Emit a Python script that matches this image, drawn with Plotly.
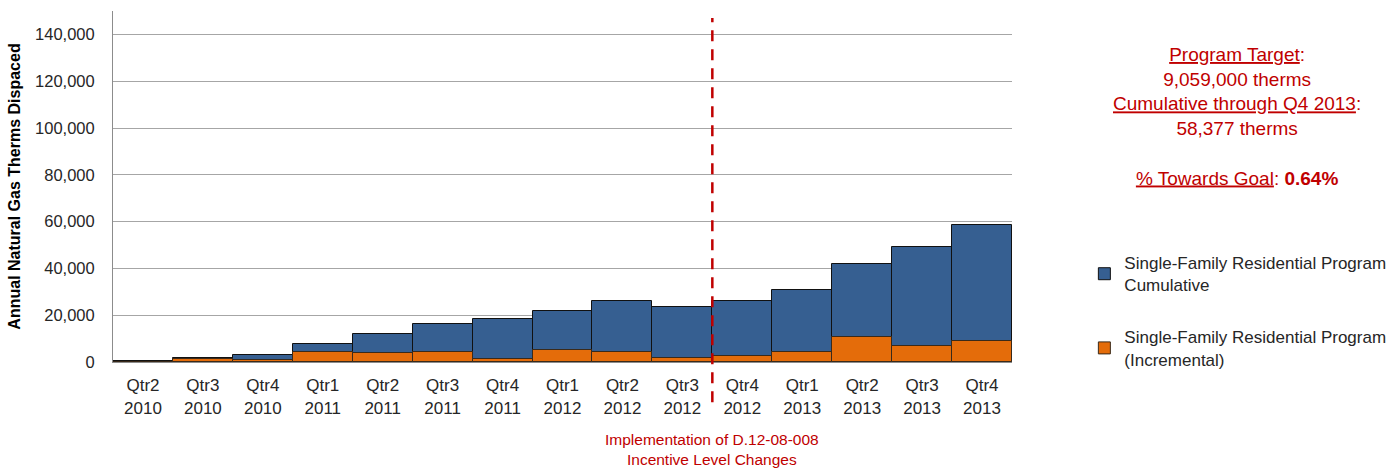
import plotly.graph_objects as go

# Quarterly labels (two-line category ticks)
quarters = ["Qtr2", "Qtr3", "Qtr4", "Qtr1", "Qtr2", "Qtr3", "Qtr4", "Qtr1",
            "Qtr2", "Qtr3", "Qtr4", "Qtr1", "Qtr2", "Qtr3", "Qtr4"]
years = ["2010", "2010", "2010", "2011", "2011", "2011", "2011", "2012",
         "2012", "2012", "2012", "2013", "2013", "2013", "2013"]
categories = [f"{q}<br>{y}" for q, y in zip(quarters, years)]

# Annual natural gas therms displaced
cumulative = [300, 1800, 3000, 7550, 11800, 16400, 18200, 21600,
              25900, 23600, 26200, 30900, 42000, 49250, 58377]
incremental = [150, 1300, 850, 4430, 4000, 4430, 1300, 5300,
               4150, 1850, 2450, 4450, 10550, 6700, 8950]

y_ticks = [0, 20000, 40000, 60000, 80000, 100000, 120000, 140000]

BLUE = "#365F91"
ORANGE = "#E46C0A"
RED = "#C00000"
FONT = "Liberation Sans"

fig = go.Figure()
fig.add_trace(go.Bar(
    x=categories, y=cumulative,
    name="Single-Family Residential Program<br>Cumulative",
    marker=dict(color=BLUE, line=dict(color="#111111", width=1)),
    legendgroup="cum",
))
fig.add_trace(go.Bar(
    x=categories, y=incremental,
    name="Single-Family Residential Program<br>(Incremental)",
    marker=dict(color=ORANGE, line=dict(color="#3a2a1a", width=1)),
    legendgroup="inc",
))

# Dashed marker between Qtr3 2012 and Qtr4 2012
fig.add_shape(type="line", xref="x", yref="paper",
              x0=9.5, x1=9.5, y0=-0.115, y1=0.98,
              line=dict(color=RED, width=2.5, dash="11px,8px"))

fig.add_annotation(
    xref="x", yref="paper", x=9.5, y=-0.19, xanchor="center", yanchor="top",
    text="Implementation of D.12-08-008<br>Incentive Level Changes",
    showarrow=False, font=dict(family=FONT, size=15.5, color=RED),
)

fig.add_annotation(
    xref="paper", yref="paper", x=1.25, y=0.912, xanchor="center", yanchor="top",
    text=("<u>Program Target</u>:<br>9,059,000 therms<br>"
          "<u>Cumulative through Q4 2013</u>:<br>58,377 therms<br><br>"
          "<u>% Towards Goal</u>: <b>0.64%</b>"),
    showarrow=False, align="center",
    font=dict(family=FONT, size=19, color=RED),
)

fig.update_layout(
    width=1397, height=469,
    margin=dict(l=113, r=385, t=11, b=107, autoexpand=False),
    paper_bgcolor="white", plot_bgcolor="white",
    barmode="overlay", bargap=0,
    font=dict(family=FONT, size=16, color="#262626"),
    showlegend=True,
    legend=dict(x=1.0805, y=0.145, xanchor="left", yanchor="middle",
                font=dict(family=FONT, size=17, color="#262626"),
                tracegroupgap=27, traceorder="grouped",
                bgcolor="rgba(0,0,0,0)"),
    xaxis=dict(
        showgrid=False, showline=True, linecolor="#8c8c8c", linewidth=1,
        ticks="", tickfont=dict(family=FONT, size=17, color="#262626"),
        ticklabelstandoff=8,
        range=[-0.5, 14.5],
    ),
    yaxis=dict(
        range=[0, 150000], tickvals=y_ticks, tickformat=",",
        showgrid=True, gridcolor="#a6a6a6", gridwidth=1,
        showline=True, linecolor="#8c8c8c", linewidth=1, zeroline=False,
        ticks="", tickfont=dict(family=FONT, size=16.5, color="#262626"),
        ticklabelstandoff=14,
        title=dict(text="<b>Annual Natural Gas Therms Dispaced</b>",
                   font=dict(family=FONT, size=16, color="#000000"),
                   standoff=10),
    ),
)

fig.write_html("out.html")
